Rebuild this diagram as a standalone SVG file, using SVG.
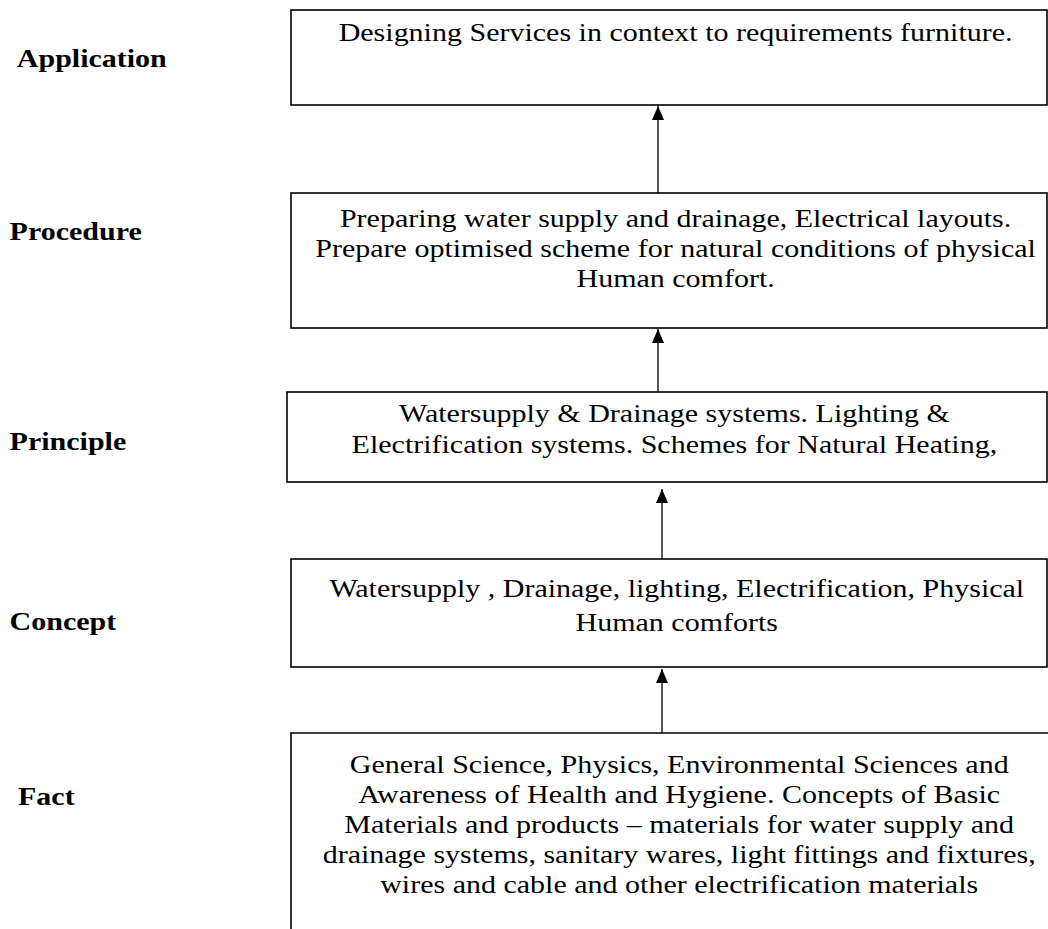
<svg xmlns="http://www.w3.org/2000/svg" width="1048" height="929" viewBox="0 0 1048 929">
<style>
.box{fill:#fff;stroke:#000;stroke-width:1.6}
.edge{fill:none;stroke:#000;stroke-width:1.6}
.t{font-family:"Liberation Serif","Times New Roman",serif;font-size:25px;fill:#000;text-anchor:middle}
.lb{font-family:"Liberation Serif","Times New Roman",serif;font-size:25px;font-weight:bold;fill:#000}
.conn{stroke:#000;stroke-width:1.3;fill:none}
</style>
<defs>
<marker id="ah" viewBox="0 0 14 12" refX="14" refY="6" markerWidth="14" markerHeight="12" markerUnits="userSpaceOnUse" orient="auto">
<path d="M0,0 L14,6 L0,12 Z" fill="#000"/>
</marker>
</defs>
<rect width="1048" height="929" fill="#fff"/>
<g id="connectors">
<line class="conn" x1="658" y1="193" x2="658" y2="106" marker-end="url(#ah)"/>
<line class="conn" x1="658" y1="393" x2="658" y2="329" marker-end="url(#ah)"/>
<line class="conn" x1="662" y1="559" x2="662" y2="489" marker-end="url(#ah)"/>
<line class="conn" x1="662" y1="733" x2="662" y2="669" marker-end="url(#ah)"/>
</g>
<g id="application">
<rect class="box" x="291" y="10" width="756" height="95"/>
<g transform="scale(1.2,1)">
<text class="t" x="563" y="41">Designing Services in context to requirements furniture.</text>
<text class="lb" x="14" y="67">Application</text>
</g>
</g>
<g id="procedure">
<rect class="box" x="291" y="193" width="756" height="135"/>
<g transform="scale(1.2,1)">
<text class="t" x="563" y="227">Preparing water supply and drainage, Electrical layouts.</text>
<text class="t" x="563" y="257">Prepare optimised scheme for natural conditions of physical</text>
<text class="t" x="563" y="287">Human comfort.</text>
<text class="lb" x="8" y="240">Procedure</text>
</g>
</g>
<g id="principle">
<rect class="box" x="287" y="392" width="760" height="90"/>
<g transform="scale(1.2,1)">
<text class="t" x="562" y="422">Watersupply &amp; Drainage systems. Lighting &amp;</text>
<text class="t" x="562" y="453">Electrification systems. Schemes for Natural Heating,</text>
<text class="lb" x="8" y="450">Principle</text>
</g>
</g>
<g id="concept">
<rect class="box" x="291" y="559" width="756" height="108"/>
<g transform="scale(1.2,1)">
<text class="t" x="564" y="597">Watersupply , Drainage, lighting, Electrification, Physical</text>
<text class="t" x="564" y="631">Human comforts</text>
<text class="lb" x="8" y="630">Concept</text>
</g>
</g>
<g id="fact">
<path class="edge" d="M291,935 L291,733 L1050,733"/>
<g transform="scale(1.2,1)">
<text class="t" x="566" y="773">General Science, Physics, Environmental Sciences and</text>
<text class="t" x="566" y="803">Awareness of Health and Hygiene. Concepts of Basic</text>
<text class="t" x="566" y="833">Materials and products – materials for water supply and</text>
<text class="t" x="566" y="863">drainage systems, sanitary wares, light fittings and fixtures,</text>
<text class="t" x="566" y="893">wires and cable and other electrification materials</text>
<text class="lb" x="15" y="805">Fact</text>
</g>
</g>
</svg>
